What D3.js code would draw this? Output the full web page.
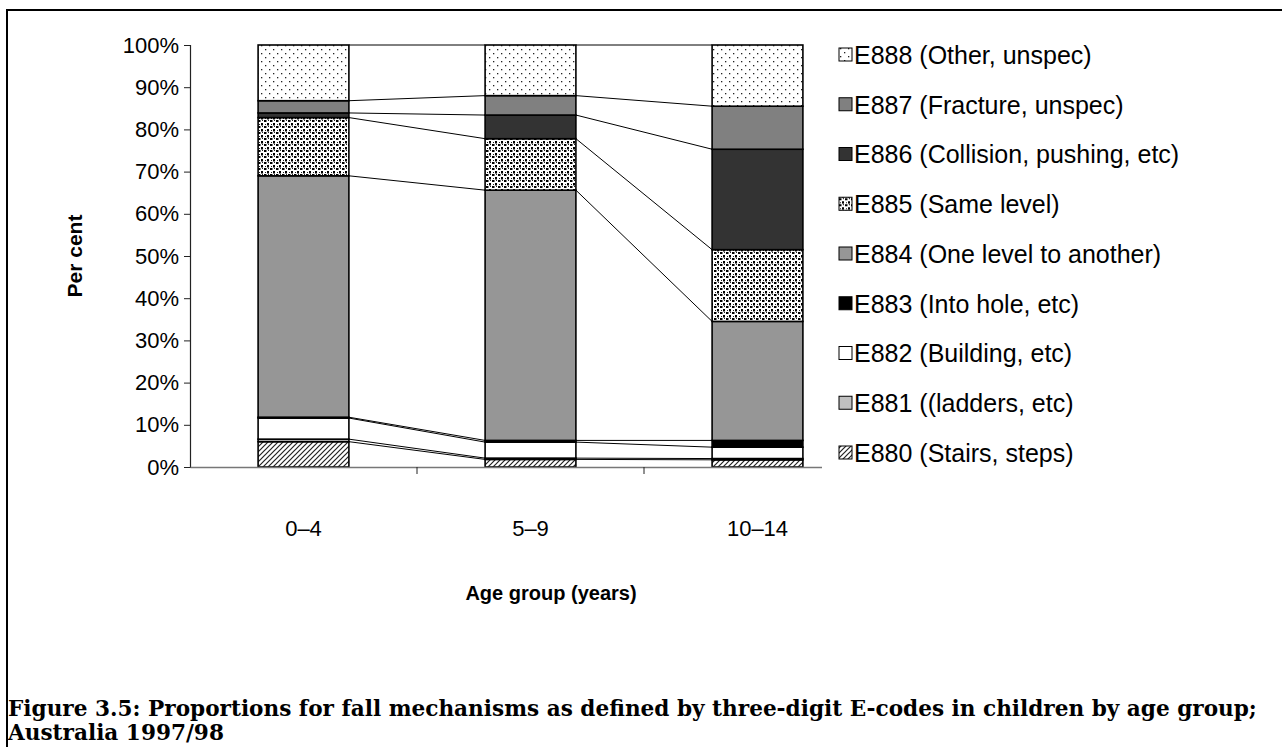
<!DOCTYPE html>
<html>
<head>
<meta charset="utf-8">
<script src="https://cdn.jsdelivr.net/npm/d3@7"></script>
<style>
  body { margin: 0; background: white; }
  svg { display: block; }
</style>
</head>
<body>
<svg id="chart"></svg>
<script>
// Age groups (x categories)
var ageGroups = ["0\u20134", "5\u20139", "10\u201314"];

// Series, bottom of the stack first
var seriesCodes = ["E880", "E881", "E882", "E883", "E884", "E885", "E886", "E887", "E888"];
var seriesLabels = [
    "E880 (Stairs, steps)",
    "E881 ((ladders, etc)",
    "E882 (Building, etc)",
    "E883 (Into hole, etc)",
    "E884 (One level to another)",
    "E885 (Same level)",
    "E886 (Collision, pushing, etc)",
    "E887 (Fracture, unspec)",
    "E888 (Other, unspec)"
];

// Per cent values for each age group, in seriesCodes order
var values0to4   = [6.0, 0.6, 5.0, 0.2, 57.2, 13.8, 1.1, 2.9, 13.2];
var values5to9   = [1.8, 0.3, 3.8, 0.4, 59.3, 12.2, 5.6, 4.6, 12.0];
var values10to14 = [1.7, 0.3, 2.7, 1.6, 28.2, 17.0, 23.8, 10.2, 14.5];

var yTicks = [0, 10, 20, 30, 40, 50, 60, 70, 80, 90, 100];

var captionLines = [
    "Figure 3.5: Proportions for fall mechanisms as defined by three-digit E-codes in children by age group;",
    "Australia 1997/98"
];

var dimensions = {
    width: 1282,
    height: 747,
    plot: { left: 190, right: 871, top: 45, bottom: 467 }
};

var svg = d3.select("#chart")
    .attr("width", dimensions.width)
    .attr("height", dimensions.height)
    .style("font-family", "Arial, 'Liberation Sans', sans-serif");

// Fill patterns used by the original Excel chart
var defs = svg.append("defs");

// E888: sparse staggered dots
var dots = defs.append("pattern").attr("id", "pat888")
    .attr("patternUnits", "userSpaceOnUse").attr("width", 8).attr("height", 8);
dots.append("rect").attr("width", 8).attr("height", 8).attr("fill", "white");
dots.append("rect").attr("x", 1).attr("y", 1).attr("width", 1.3).attr("height", 1.3).attr("fill", "#222");
dots.append("rect").attr("x", 5).attr("y", 5).attr("width", 1.3).attr("height", 1.3).attr("fill", "#222");

// E885: dense squares
var squares = defs.append("pattern").attr("id", "pat885")
    .attr("patternUnits", "userSpaceOnUse").attr("width", 6).attr("height", 6);
squares.append("rect").attr("width", 6).attr("height", 6).attr("fill", "white");
squares.append("rect").attr("x", 0).attr("y", 0).attr("width", 2.5).attr("height", 2).attr("fill", "black");
squares.append("rect").attr("x", 3).attr("y", 3).attr("width", 2).attr("height", 2.5).attr("fill", "black");
squares.append("rect").attr("x", 4).attr("y", 0).attr("width", 1).attr("height", 1).attr("fill", "#222");
squares.append("rect").attr("x", 1).attr("y", 4).attr("width", 1).attr("height", 1).attr("fill", "#222");

// E880: diagonal hatch
var hatch = defs.append("pattern").attr("id", "pat880")
    .attr("patternUnits", "userSpaceOnUse").attr("width", 5).attr("height", 5);
hatch.append("rect").attr("width", 5).attr("height", 5).attr("fill", "white");
hatch.append("path").attr("d", "M-1,6 L6,-1 M-2,2 L2,-2 M3,7 L7,3")
    .attr("stroke", "#222").attr("stroke-width", 1.2);

var fills = {
    E880: "url(#pat880)",
    E881: "#c0c0c0",
    E882: "#ffffff",
    E883: "#000000",
    E884: "#969696",
    E885: "url(#pat885)",
    E886: "#333333",
    E887: "#808080",
    E888: "url(#pat888)"
};

// Outer figure frame (only top and left edges fall inside the page)
svg.append("rect")
    .attr("x", 7).attr("y", 10)
    .attr("width", 1300).attr("height", 800)
    .attr("fill", "none")
    .attr("stroke", "black")
    .attr("stroke-width", 2);

// Build rows for stacking
var allValues = [values0to4, values5to9, values10to14];
var rows = ageGroups.map(function(g, i) {
    var row = { group: g };
    seriesCodes.forEach(function(c, j) { row[c] = allValues[i][j]; });
    return row;
});
var stacked = d3.stack().keys(seriesCodes)(rows);

// Scales
var xScale = d3.scaleBand()
    .domain(ageGroups)
    .range([dimensions.plot.left, dimensions.plot.right])
    .paddingInner(0.6)
    .paddingOuter(0.3);

var yScale = d3.scaleLinear()
    .domain([0, 100])
    .range([dimensions.plot.bottom, dimensions.plot.top]);

var step = xScale.step();

// Series lines between neighbouring bars
var seriesLines = svg.append("g");
stacked.forEach(function(layer) {
    for (var i = 0; i < ageGroups.length - 1; i++) {
        seriesLines.append("line")
            .attr("x1", xScale(ageGroups[i]) + xScale.bandwidth())
            .attr("x2", xScale(ageGroups[i + 1]))
            .attr("y1", yScale(layer[i][1]))
            .attr("y2", yScale(layer[i + 1][1]))
            .attr("stroke", "black")
            .attr("stroke-width", 1);
    }
});

// Bars
svg.append("g")
    .selectAll("g")
    .data(stacked)
    .enter()
    .append("g")
    .attr("fill", function(d) { return fills[d.key]; })
    .selectAll("rect")
    .data(function(d) { return d; })
    .enter()
    .append("rect")
    .attr("x", function(d) { return xScale(d.data.group); })
    .attr("y", function(d) { return yScale(d[1]); })
    .attr("width", xScale.bandwidth())
    .attr("height", function(d) { return yScale(d[0]) - yScale(d[1]); })
    .attr("stroke", "black")
    .attr("stroke-width", 1.6);

// Y axis
var yAxis = d3.axisLeft(yScale)
    .tickValues(yTicks)
    .tickSize(6)
    .tickFormat(function(d) { return d + "%"; });
var yAxisG = svg.append("g")
    .attr("transform", "translate(" + dimensions.plot.left + ",0)")
    .call(yAxis);
yAxisG.select(".domain").attr("stroke", "#222").attr("stroke-width", 1.2);
yAxisG.selectAll(".tick line").attr("stroke", "#222");
yAxisG.selectAll(".tick text")
    .attr("x", -11)
    .attr("fill", "black")
    .style("font-size", "22px")
    .style("font-family", "Arial, 'Liberation Sans', sans-serif");

// X axis: tick marks sit between categories, like Excel
var xAxisG = svg.append("g")
    .attr("transform", "translate(0," + yScale(0) + ")")
    .call(d3.axisBottom(xScale).tickSize(0).tickPadding(53));
xAxisG.select(".domain").attr("stroke", "#777").attr("stroke-width", 1.5);
xAxisG.selectAll(".tick text")
    .attr("fill", "black")
    .style("font-size", "22px")
    .style("font-family", "Arial, 'Liberation Sans', sans-serif");
xAxisG.selectAll(".divider")
    .data(ageGroups)
    .enter()
    .append("line")
    .attr("x1", function(d) { return xScale(d) + xScale.bandwidth() / 2 + step / 2; })
    .attr("x2", function(d) { return xScale(d) + xScale.bandwidth() / 2 + step / 2; })
    .attr("y1", 0)
    .attr("y2", 7)
    .attr("stroke", "#222");

// Legend (white box sits over the end of the x axis, as in Excel)
var legend = svg.append("g");
legend.append("rect")
    .attr("x", 822).attr("y", 30)
    .attr("width", 440).attr("height", 445)
    .attr("fill", "white");

var legendItems = seriesCodes.slice().reverse();
var legendRow = legend.selectAll(".legend")
    .data(legendItems)
    .enter()
    .append("g")
    .attr("class", "legend")
    .attr("transform", function(d, i) { return "translate(839," + (55 + i * 49.75) + ")"; });

legendRow.append("rect")
    .attr("x", 0)
    .attr("y", -7)
    .attr("width", 13)
    .attr("height", 13)
    .attr("fill", function(d) { return fills[d]; })
    .attr("stroke", "black")
    .attr("stroke-width", 1);

legendRow.append("text")
    .attr("x", 15)
    .attr("y", 0)
    .attr("dy", "0.35em")
    .style("font-size", "25px")
    .text(function(d) { return seriesLabels[seriesCodes.indexOf(d)]; });

// Axis titles
svg.append("text")
    .attr("x", 551)
    .attr("y", 593)
    .attr("dy", "0.35em")
    .attr("text-anchor", "middle")
    .style("font-size", "20px")
    .style("font-weight", "bold")
    .text("Age group (years)");

svg.append("text")
    .attr("transform", "translate(75,256) rotate(-90)")
    .attr("dy", "0.35em")
    .attr("text-anchor", "middle")
    .style("font-size", "21px")
    .style("font-weight", "bold")
    .text("Per cent");

// Caption
svg.selectAll(".caption")
    .data(captionLines)
    .enter()
    .append("text")
    .attr("class", "caption")
    .attr("x", 8)
    .attr("y", function(d, i) { return 708 + i * 24; })
    .attr("dy", "0.35em")
    .style("font-family", "'DejaVu Serif', serif")
    .style("font-size", "21.6px")
    .style("font-weight", "bold")
    .text(function(d) { return d; });
</script>
</body>
</html>
